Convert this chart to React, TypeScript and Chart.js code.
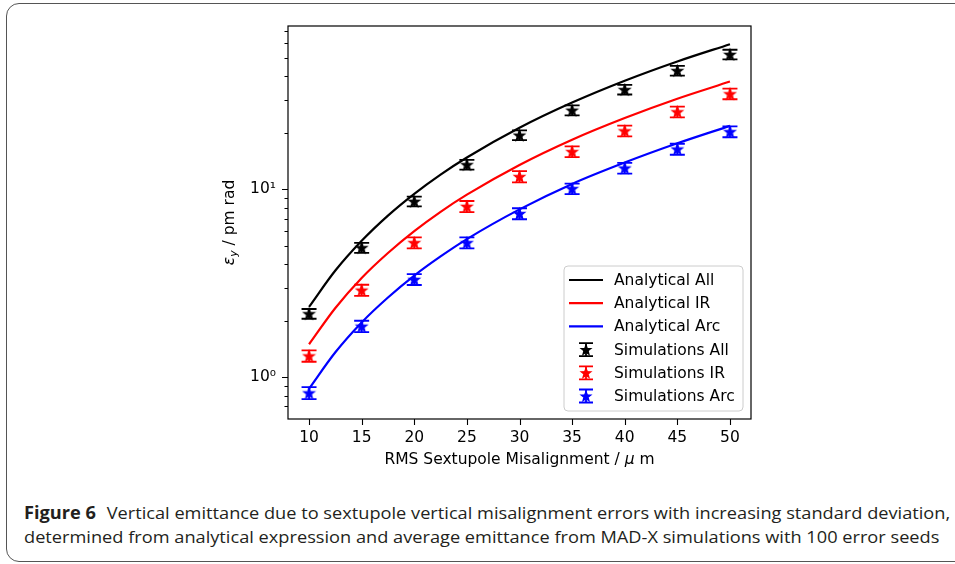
import React, { useEffect, useLayoutEffect, useRef } from 'react';
import { Chart, registerables } from 'chart.js';

Chart.register(...registerables);

const FONT = "'DejaVu Sans', sans-serif";
const FONT_SIZE = 15.5;

// ---- data ----
const analyticalX = [10, 12.5, 15, 17.5, 20, 22.5, 25, 30, 35, 40, 45, 50];
const analyticalAll = [2.37, 3.7, 5.33, 7.26, 9.48, 12.0, 14.8, 21.3, 29.0, 37.9, 48.0, 59.3];
const analyticalIR = [1.5, 2.34, 3.38, 4.59, 6.0, 7.6, 9.38, 13.5, 18.4, 24.0, 30.4, 37.5];
const analyticalArc = [0.87, 1.36, 1.96, 2.66, 3.48, 4.4, 5.44, 7.83, 10.7, 13.9, 17.6, 21.8];

const simX = [10, 15, 20, 25, 30, 35, 40, 45, 50];
const simAll = [2.18, 4.9, 8.64, 13.55, 19.45, 26.4, 34.0, 42.9, 52.3];
const simAllErr = [0.13, 0.3, 0.52, 0.8, 1.15, 1.6, 2.0, 2.6, 3.1];
const simIR = [1.3, 2.91, 5.21, 8.13, 11.7, 15.9, 20.5, 25.9, 32.3];
const simIRErr = [0.09, 0.2, 0.35, 0.55, 0.8, 1.05, 1.35, 1.7, 2.1];
const simArc = [0.826, 1.87, 3.32, 5.21, 7.44, 10.1, 13.0, 16.4, 20.3];
const simArcErr = [0.06, 0.13, 0.22, 0.35, 0.5, 0.65, 0.85, 1.1, 1.35];

const xTicks = [10, 15, 20, 25, 30, 35, 40, 45, 50];
const yMajorTicks = [1, 10];
const yMajorLabels = ['10\u2070', '10\u00b9'];
const yMinorTicks = [0.7, 0.8, 0.9, 2, 3, 4, 5, 6, 7, 8, 9, 20, 30, 40, 50, 60, 70];
const xMin = 8;
const xMax = 52;
const yMin = 0.622;
const yMax = 74.1;

const legendLabels = [
  'Analytical All',
  'Analytical IR',
  'Analytical Arc',
  'Simulations All',
  'Simulations IR',
  'Simulations Arc',
];
const colors = ['#000000', '#ff0000', '#0000ff'];

const xTitleParts: [string, boolean][] = [
  ['RMS Sextupole Misalignment / ', false],
  ['\u03bc', true],
  [' m', false],
];

const CAPTION_BOLD = 'Figure 6';
const CAPTION_LINE1 =
  'Vertical emittance due to sextupole vertical misalignment errors with increasing standard deviation,';
const CAPTION_LINE2 =
  'determined from analytical expression and average emittance from MAD-X simulations with 100 error seeds';

function makeStar(color: string, r: number): HTMLCanvasElement {
  const size = Math.ceil(r * 2 + 4);
  const c = document.createElement('canvas');
  c.width = size;
  c.height = size;
  const ctx = c.getContext('2d')!;
  drawStar(ctx, size / 2, size / 2 + 0.5, r, color);
  return c;
}

function drawStar(ctx: CanvasRenderingContext2D, cx: number, cy: number, r: number, color: string) {
  ctx.save();
  ctx.beginPath();
  for (let i = 0; i < 10; i++) {
    const ang = -Math.PI / 2 + (i * Math.PI) / 5;
    const rr = i % 2 === 0 ? r : r * 0.42;
    const px = cx + rr * Math.cos(ang);
    const py = cy + rr * Math.sin(ang);
    if (i === 0) ctx.moveTo(px, py);
    else ctx.lineTo(px, py);
  }
  ctx.closePath();
  ctx.fillStyle = color;
  ctx.fill();
  ctx.strokeStyle = color;
  ctx.lineWidth = 1.3;
  ctx.stroke();
  ctx.restore();
}

const errorBarPlugin = {
  id: 'errbars',
  afterDatasetDraw(chart: any, args: any) {
    const ds = chart.data.datasets[args.index];
    if (!ds.errors) return;
    const xs = chart.scales.x;
    const ys = chart.scales.y;
    const ctx: CanvasRenderingContext2D = chart.ctx;
    ctx.save();
    ctx.strokeStyle = ds.borderColor;
    ctx.lineWidth = 1.8;
    ds.data.forEach((p: any, i: number) => {
      const px = xs.getPixelForValue(p.x);
      const top = ys.getPixelForValue(p.y + ds.errors[i]);
      const bot = ys.getPixelForValue(p.y - ds.errors[i]);
      ctx.beginPath();
      ctx.moveTo(px, top);
      ctx.lineTo(px, bot);
      ctx.moveTo(px - 7.5, top);
      ctx.lineTo(px + 7.5, top);
      ctx.moveTo(px - 7.5, bot);
      ctx.lineTo(px + 7.5, bot);
      ctx.stroke();
    });
    ctx.restore();
  },
};

function measureParts(ctx: CanvasRenderingContext2D, parts: [string, boolean][], size: number) {
  let total = 0;
  const widths = parts.map(([t, it]) => {
    ctx.font = `${it ? 'italic ' : ''}${size}px ${FONT}`;
    const w = ctx.measureText(t).width;
    total += w;
    return w;
  });
  return { total, widths };
}

const decorPlugin = {
  id: 'decor',
  afterDraw(chart: any) {
    const ctx: CanvasRenderingContext2D = chart.ctx;
    const a = chart.chartArea;
    const xs = chart.scales.x;
    const ys = chart.scales.y;
    ctx.save();
    // frame
    ctx.strokeStyle = '#000';
    ctx.lineWidth = 1.2;
    ctx.strokeRect(a.left, a.top, a.right - a.left, a.bottom - a.top);
    // ticks
    ctx.lineWidth = 1.1;
    ctx.beginPath();
    xTicks.forEach((v) => {
      const px = Math.round(xs.getPixelForValue(v)) + 0.5;
      ctx.moveTo(px, a.bottom);
      ctx.lineTo(px, a.bottom + 6);
    });
    yMajorTicks.forEach((v) => {
      const py = Math.round(ys.getPixelForValue(v)) + 0.5;
      ctx.moveTo(a.left, py);
      ctx.lineTo(a.left - 6, py);
    });
    yMinorTicks.forEach((v) => {
      const py = Math.round(ys.getPixelForValue(v)) + 0.5;
      ctx.moveTo(a.left, py);
      ctx.lineTo(a.left - 3.5, py);
    });
    ctx.stroke();

    // x title
    ctx.fillStyle = '#000';
    ctx.textBaseline = 'middle';
    ctx.textAlign = 'left';
    const { total, widths } = measureParts(ctx, xTitleParts, FONT_SIZE);
    let cx = (a.left + a.right) / 2 - total / 2;
    const ty = a.bottom + 40.5;
    xTitleParts.forEach(([t, it], i) => {
      ctx.font = `${it ? 'italic ' : ''}${FONT_SIZE}px ${FONT}`;
      ctx.fillText(t, cx, ty);
      cx += widths[i];
    });

    // y title
    ctx.save();
    ctx.translate(a.left - 58, (a.top + a.bottom) / 2);
    ctx.rotate(-Math.PI / 2);
    const subSize = FONT_SIZE * 0.7;
    ctx.font = `italic ${FONT_SIZE}px ${FONT}`;
    const wEps = ctx.measureText('\u03b5').width;
    ctx.font = `italic ${subSize}px ${FONT}`;
    const wSub = ctx.measureText('y').width;
    ctx.font = `${FONT_SIZE}px ${FONT}`;
    const rest = ' / pm rad';
    const wRest = ctx.measureText(rest).width;
    let yx = -(wEps + wSub + wRest) / 2;
    ctx.font = `italic ${FONT_SIZE}px ${FONT}`;
    ctx.fillText('\u03b5', yx, 0);
    yx += wEps;
    ctx.font = `italic ${subSize}px ${FONT}`;
    ctx.fillText('y', yx, 4);
    yx += wSub;
    ctx.font = `${FONT_SIZE}px ${FONT}`;
    ctx.fillText(rest, yx, 0);
    ctx.restore();

    // legend
    const bw = 179;
    const bh = 145;
    const bx = a.right - 8 - bw;
    const by = a.bottom - 8 - bh;
    ctx.beginPath();
    const rad = 4;
    ctx.moveTo(bx + rad, by);
    ctx.arcTo(bx + bw, by, bx + bw, by + bh, rad);
    ctx.arcTo(bx + bw, by + bh, bx, by + bh, rad);
    ctx.arcTo(bx, by + bh, bx, by, rad);
    ctx.arcTo(bx, by, bx + bw, by, rad);
    ctx.closePath();
    ctx.fillStyle = 'rgba(255,255,255,0.8)';
    ctx.fill();
    ctx.strokeStyle = '#cccccc';
    ctx.lineWidth = 1;
    ctx.stroke();

    const rowH = 23.2;
    const y0 = by + 14;
    legendLabels.forEach((lab, i) => {
      const ry = y0 + i * rowH;
      const color = colors[i % 3];
      if (i < 3) {
        ctx.strokeStyle = color;
        ctx.lineWidth = 2.2;
        ctx.beginPath();
        ctx.moveTo(bx + 5, ry);
        ctx.lineTo(bx + 39, ry);
        ctx.stroke();
      } else {
        const hx = bx + 22;
        ctx.strokeStyle = color;
        ctx.lineWidth = 1.8;
        ctx.beginPath();
        ctx.moveTo(hx, ry - 6.5);
        ctx.lineTo(hx, ry + 6.5);
        ctx.moveTo(hx - 7, ry - 6.5);
        ctx.lineTo(hx + 7, ry - 6.5);
        ctx.moveTo(hx - 7, ry + 6.5);
        ctx.lineTo(hx + 7, ry + 6.5);
        ctx.stroke();
        drawStar(ctx, hx, ry + 0.5, 5, color);
      }
      ctx.fillStyle = '#000';
      ctx.font = `${FONT_SIZE}px ${FONT}`;
      ctx.textBaseline = 'middle';
      ctx.fillText(lab, bx + 50, ry + 1);
    });
    ctx.restore();
  },
};

function toPoints(xs: number[], ys: number[]) {
  return xs.map((x, i) => ({ x, y: ys[i] }));
}

export default function App() {
  const canvasRef = useRef<HTMLCanvasElement>(null);
  const l1 = useRef<HTMLDivElement>(null);
  const l2 = useRef<HTMLDivElement>(null);

  useLayoutEffect(() => {
    if (!l1.current || !l2.current) return;
    const w1 = l1.current.scrollWidth;
    const s = 926 / w1;
    l1.current.style.transform = `scaleX(${s})`;
    l2.current.style.transform = `scaleX(${s})`;
  }, []);

  useEffect(() => {
    if (!canvasRef.current) return;
    const lineDs = (label: string, data: number[], color: string) => ({
      type: 'line',
      label,
      data: toPoints(analyticalX, data),
      borderColor: color,
      backgroundColor: color,
      borderWidth: 2.2,
      pointRadius: 0,
      cubicInterpolationMode: 'monotone',
      fill: false,
      order: 2,
    });
    const simDs = (label: string, data: number[], err: number[], color: string) => ({
      type: 'line',
      label,
      data: toPoints(simX, data),
      errors: err,
      showLine: false,
      borderColor: color,
      backgroundColor: color,
      pointStyle: makeStar(color, 5.5),
      pointRadius: 5,
      order: 1,
    });
    const chart = new Chart(canvasRef.current, {
      type: 'line',
      data: {
        datasets: [
          lineDs(legendLabels[0], analyticalAll, colors[0]),
          lineDs(legendLabels[1], analyticalIR, colors[1]),
          lineDs(legendLabels[2], analyticalArc, colors[2]),
          simDs(legendLabels[3], simAll, simAllErr, colors[0]),
          simDs(legendLabels[4], simIR, simIRErr, colors[1]),
          simDs(legendLabels[5], simArc, simArcErr, colors[2]),
        ] as any,
      },
      options: {
        animation: false,
        responsive: false,
        devicePixelRatio: 1,
        layout: { padding: { left: 0, top: 26, right: 204, bottom: 11 } },
        plugins: { legend: { display: false }, tooltip: { enabled: false } },
        scales: {
          x: {
            type: 'linear',
            min: xMin,
            max: xMax,
            grid: { display: false, drawTicks: false },
            border: { display: false },
            ticks: {
              font: { family: FONT, size: FONT_SIZE },
              color: '#000',
              padding: 10,
              autoSkip: false,
              maxRotation: 0,
              callback: (v: any) => String(v),
            },
            afterBuildTicks: (s: any) => {
              s.ticks = xTicks.map((v) => ({ value: v }));
            },
            afterFit: (s: any) => {
              s.height = 50;
            },
          },
          y: {
            type: 'logarithmic',
            min: yMin,
            max: yMax,
            grid: { display: false, drawTicks: false },
            border: { display: false },
            ticks: {
              font: { family: FONT, size: FONT_SIZE },
              color: '#000',
              padding: 12,
              autoSkip: false,
              callback: (v: any) => {
                const k = yMajorTicks.indexOf(Number(v));
                return k >= 0 ? yMajorLabels[k] : '';
              },
            },
            afterBuildTicks: (s: any) => {
              s.ticks = [...yMinorTicks, ...yMajorTicks]
                .sort((p, q) => p - q)
                .map((v) => ({ value: v, major: yMajorTicks.includes(v) }));
            },
            afterFit: (s: any) => {
              s.width = 288;
            },
          },
        },
      } as any,
      plugins: [errorBarPlugin, decorPlugin],
    });
    return () => chart.destroy();
  }, []);

  const capStyle: React.CSSProperties = {
    position: 'absolute',
    left: 24,
    whiteSpace: 'nowrap',
    font: '17px "Open Sans", sans-serif',
    lineHeight: '20px',
    color: '#231f20',
    transformOrigin: 'left top',
  };

  return (
    <div
      style={{
        position: 'fixed',
        left: 0,
        top: 0,
        width: 955,
        height: 564,
        overflow: 'hidden',
        background: '#fff',
      }}
    >
      <div
        style={{
          position: 'absolute',
          left: 6,
          top: 3,
          width: 1010,
          height: 559,
          boxSizing: 'border-box',
          border: '1.5px solid #555',
          borderRadius: 13,
        }}
      />
      <canvas
        ref={canvasRef}
        width={955}
        height={480}
        style={{ position: 'absolute', left: 0, top: 0, width: 955, height: 480 }}
      />
      <div ref={l1} style={{ ...capStyle, top: 503 }}>
        <span style={{ fontWeight: 700 }}>{CAPTION_BOLD}</span>
        <span style={{ marginLeft: 10 }}>{CAPTION_LINE1}</span>
      </div>
      <div ref={l2} style={{ ...capStyle, top: 527 }}>
        {CAPTION_LINE2}
      </div>
    </div>
  );
}
